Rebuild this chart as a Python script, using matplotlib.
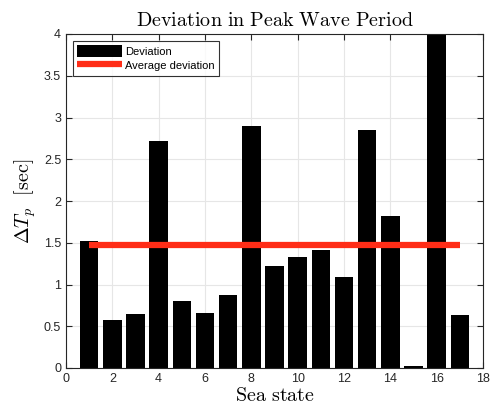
import matplotlib
matplotlib.use("Agg")
import matplotlib.pyplot as plt
import numpy as np

sea_states = list(range(1, 18))
deviation = [1.52, 0.575, 0.65, 2.72, 0.80, 0.66, 0.87, 2.90, 1.22, 1.33,
             1.41, 1.09, 2.85, 1.82, 0.02, 4.0, 0.63]
avg_x = [1, 17]
avg_dev = [1.475, 1.475]
xticks = list(range(0, 19, 2))
yticks = [0, 0.5, 1, 1.5, 2, 2.5, 3, 3.5, 4]
ytick_labels = ['0', '0.5', '1', '1.5', '2', '2.5', '3', '3.5', '4']

plt.rcParams['font.family'] = ['Liberation Sans', 'DejaVu Sans']
plt.rcParams['mathtext.fontset'] = 'cm'

fig = plt.figure(figsize=(4.9, 4.13), dpi=100)
ax = fig.add_axes([66/490, 45/413, 417/490, 334/413])

bars = ax.bar(sea_states, deviation, width=0.8, color='black', label='Deviation', zorder=2)
line, = ax.plot(avg_x, avg_dev, color='#ff2d17', linewidth=4.5, solid_capstyle='butt',
                label='Average deviation', zorder=3)

ax.set_xlim(0, 18)
ax.set_ylim(0, 4)
ax.set_xticks(xticks)
ax.set_yticks(yticks)
ax.set_yticklabels(ytick_labels)
ax.grid(True, color='#e6e6e6', linewidth=0.8, zorder=0)
ax.set_axisbelow(True)
ax.tick_params(direction='in', length=4, labelsize=9, colors='#262626', top=True, right=True)
for s in ax.spines.values():
    s.set_color('#262626')
    s.set_linewidth(0.8)

ax.set_title(r'$\mathrm{Deviation\ in\ Peak\ Wave\ Period}$', fontsize=14.5, pad=6)
ax.set_xlabel(r'$\mathrm{Sea\ state}$', fontsize=14.5, labelpad=1)
ax.set_ylabel(r'$\Delta T_p\ \ [\mathrm{sec}]$', fontsize=14.5, labelpad=4)

leg = ax.legend([bars, line], ['Deviation', 'Average deviation'],
                loc='upper left', fontsize=8, frameon=True, fancybox=False,
                edgecolor='black', borderpad=0.4, handlelength=4.0, handleheight=1.3,
                handletextpad=0.3, borderaxespad=0.6, labelspacing=0.2)
leg.get_frame().set_linewidth(0.8)

fig.savefig('out.png', dpi=100)
